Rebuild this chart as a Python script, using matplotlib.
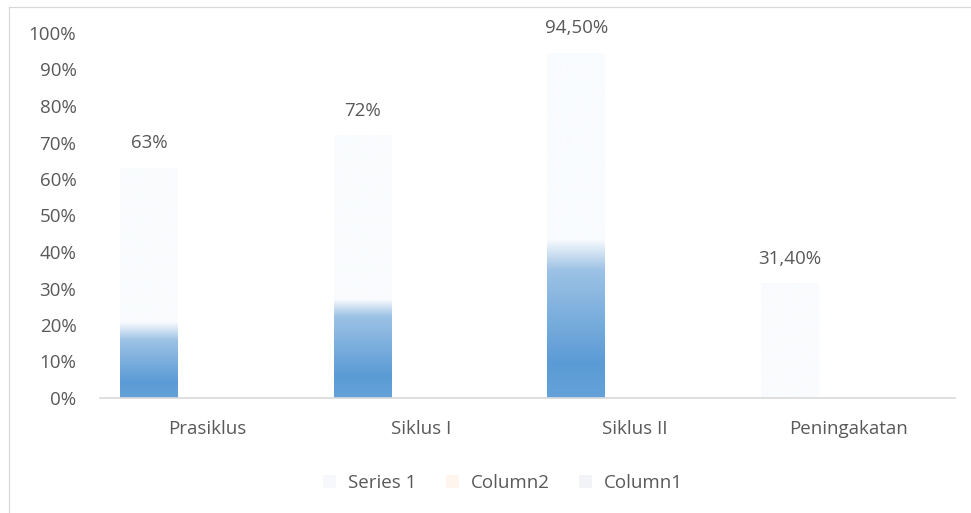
import numpy as np
import matplotlib
matplotlib.use("Agg")
import matplotlib.pyplot as plt
from matplotlib.colors import to_rgb
from matplotlib.patches import Patch
from matplotlib.lines import Line2D

# ---- data ----
categories = ["Prasiklus", "Siklus I", "Siklus II", "Peningakatan"]
series_names = ["Series 1", "Column2", "Column1"]
series_1 = [0.63, 0.72, 0.945, 0.314]
column2 = [0, 0, 0, 0]
column1 = [0, 0, 0, 0]
value_labels = ["63%", "72%", "94,50%", "31,40%"]
y_ticks = [0.0, 0.1, 0.2, 0.3, 0.4, 0.5, 0.6, 0.7, 0.8, 0.9, 1.0]
y_tick_labels = ["0%", "10%", "20%", "30%", "40%", "50%", "60%", "70%", "80%", "90%", "100%"]

# ---- style ----
TEXT = "#595959"
AXIS = "#d9d9d9"
FONT = ["Open Sans", "DejaVu Sans"]
FS = 13.5
legend_colors = ["#f6f8fc", "#fdf5ee", "#f2f3f6"]
# gradient fade points (fraction of each bar's height): start of fade, end of fade
fade_stops = [(0.25, 0.33), (0.31, 0.375), (0.37, 0.46), (0.0, 0.0)]

plt.rcParams["font.family"] = FONT

W, H = 971, 513
fig = plt.figure(figsize=(W / 100, H / 100), dpi=100)
ax = fig.add_axes([100 / W, 1 - 398 / H, (955 - 100) / W, (398 - 33) / H])

n_series = 3
bar_w = 58 / 213.75
x = np.arange(len(categories))
offsets = (np.arange(n_series) - (n_series - 1) / 2) * bar_w

dark = np.array(to_rgb("#5b9bd5"))
bottom = np.array(to_rgb("#64a2d9"))
light = np.array(to_rgb("#9cc2e5"))
white = np.array(to_rgb("#f9fbfd"))


def bar_gradient(f1, f2, n=400):
    t = np.linspace(0, 1, n)  # fraction of bar height, bottom to top
    if f2 <= 0:
        return np.tile(white, (n, 1))
    pts = [0.0, 0.1 * f1 / 0.37, f1, f2, 1.0]
    cols = [bottom, dark, light, white, white]
    out = np.zeros((n, 3))
    for c in range(3):
        out[:, c] = np.interp(t, pts, [col[c] for col in cols])
    return out


# Series 1 bars with vertical gradient fill
for i, v in enumerate(series_1):
    xc = x[i] + offsets[0]
    f1, f2 = fade_stops[i]
    img = bar_gradient(f1, f2)[::-1][:, None, :]
    ax.imshow(img, extent=[xc - bar_w / 2, xc + bar_w / 2, 0, v],
              aspect="auto", interpolation="bilinear", zorder=2)
    ax.text(xc, v + 0.043, value_labels[i], ha="center", va="bottom",
            fontsize=FS, color=TEXT)

# the two empty series
ax.bar(x + offsets[1], column2, width=bar_w, color=legend_colors[1], zorder=2)
ax.bar(x + offsets[2], column1, width=bar_w, color=legend_colors[2], zorder=2)

ax.set_xlim(-0.5, len(categories) - 0.5)
ax.set_ylim(0, 1.0)
ax.set_yticks(y_ticks)
ax.set_yticklabels(y_tick_labels)
ax.set_xticks(x)
ax.set_xticklabels(categories)
ax.tick_params(axis="both", length=0, labelsize=FS, labelcolor=TEXT)
ax.tick_params(axis="y", pad=17)
ax.tick_params(axis="x", pad=16)
for s in ["top", "right", "left"]:
    ax.spines[s].set_visible(False)
ax.spines["bottom"].set_color(AXIS)
ax.spines["bottom"].set_linewidth(1.2)
ax.spines["bottom"].set_zorder(3)

# chart border (left and top edges)
fig.add_artist(Line2D([8.5 / W, 8.5 / W], [0, 1 - 6.5 / H], transform=fig.transFigure,
                      color=AXIS, lw=0.9))
fig.add_artist(Line2D([8.5 / W, 1], [1 - 6.5 / H, 1 - 6.5 / H], transform=fig.transFigure,
                      color=AXIS, lw=0.9))

handles = [Patch(facecolor=c, edgecolor="none") for c in legend_colors]
fig.legend(handles, series_names, loc="center", bbox_to_anchor=(503 / W, 1 - 483 / H),
           ncol=3, frameon=False, fontsize=FS, labelcolor=TEXT,
           handlelength=0.7, handleheight=0.7, handletextpad=0.6, columnspacing=1.6)

fig.savefig("out.png", dpi=100)
